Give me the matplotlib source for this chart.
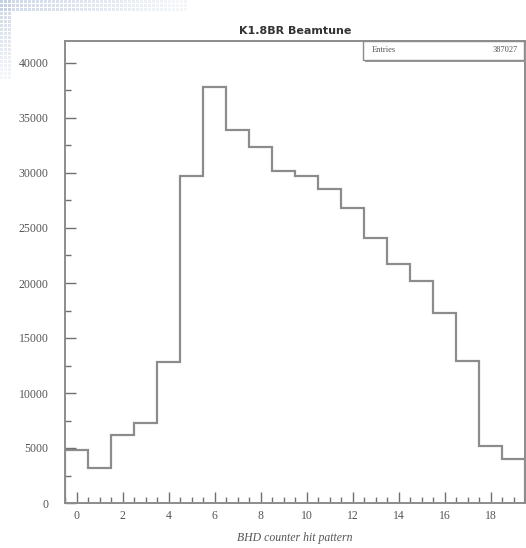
import numpy as np
import matplotlib.pyplot as plt
from matplotlib.patches import Rectangle
from matplotlib.ticker import MultipleLocator

# BHD counter hit pattern, one bin per counter
counters = list(range(20))
counts = [4800, 3200, 6200, 7300, 12850, 29700, 37850, 33900, 32400, 30200,
          29700, 28500, 26800, 24100, 21700, 20200, 17300, 12900, 5200, 4000]
entries = 387027

W, H = 526, 548
fig = plt.figure(figsize=(W / 100, H / 100), dpi=100)
fig.patch.set_facecolor('white')

# faint web-page grid pattern in the top-left corner
for (x0, y0, w, h) in [(0, 0, 185, 9), (0, 0, 10, 78)]:
    for i in range(0, w, 4):
        for j in range(0, h, 4):
            fade = 1.0 - 0.8 * max(i / 185, j / 78)
            fig.patches.append(Rectangle(((x0 + i) / W, 1 - (y0 + j + 3) / H), 3 / W, 3 / H,
                                         transform=fig.transFigure, facecolor='#c2cfe3',
                                         alpha=0.8 * fade, edgecolor='none', zorder=0))

ax = fig.add_axes([65 / W, 45 / H, 460 / W, 462 / H])
edges = np.arange(len(counts) + 1) - 0.5
ax.stairs(counts, edges, color='#8c8c8c', lw=1.6)

ax.set_xlim(-0.5, 19.5)
ax.set_ylim(0, 42000)
ax.xaxis.set_major_locator(MultipleLocator(2))
ax.xaxis.set_minor_locator(MultipleLocator(0.5))
ax.yaxis.set_major_locator(MultipleLocator(5000))
ax.yaxis.set_minor_locator(MultipleLocator(2500))
ax.tick_params(which='both', direction='in', top=False, right=False, color='#707070',
               labelsize=8.5, labelcolor='#555555')
ax.tick_params(which='major', length=8, width=1)
ax.tick_params(which='minor', length=4, width=1)
ax.tick_params(axis='y', pad=12)
ax.tick_params(axis='x', pad=5)
for lab in ax.get_xticklabels() + ax.get_yticklabels():
    lab.set_family('Liberation Serif')
for s in ax.spines.values():
    s.set_color('#8c8c8c')
    s.set_linewidth(1.4)

ax.set_xlabel('BHD counter hit pattern', family='Liberation Serif', style='italic',
              fontsize=8.5, color='#555555', labelpad=7)
fig.text(295 / W, 1 - 31 / H, 'K1.8BR Beamtune', ha='center', va='center',
         fontsize=8, fontweight='bold', color='#333333', family='DejaVu Sans')

# stats box
bx0, by0, bx1, by1 = 363, 41, 524, 60
fig.patches.append(Rectangle(((bx0 + 2) / W, 1 - (by1 + 2) / H), (bx1 - bx0) / W, (by1 - by0) / H,
                             transform=fig.transFigure, facecolor='#9a9a9a', edgecolor='none', zorder=3))
fig.patches.append(Rectangle((bx0 / W, 1 - by1 / H), (bx1 - bx0) / W, (by1 - by0) / H,
                             transform=fig.transFigure, facecolor='white', edgecolor='#8c8c8c',
                             lw=1.0, zorder=4))
fig.text((bx0 + 9) / W, 1 - 50 / H, 'Entries', ha='left', va='center', fontsize=6,
         family='Liberation Serif', color='#555555', zorder=5)
fig.text((bx1 - 6) / W, 1 - 50 / H, str(entries), ha='right', va='center', fontsize=6,
         family='Liberation Serif', color='#555555', zorder=5)

fig.savefig('out.png', dpi=100)
